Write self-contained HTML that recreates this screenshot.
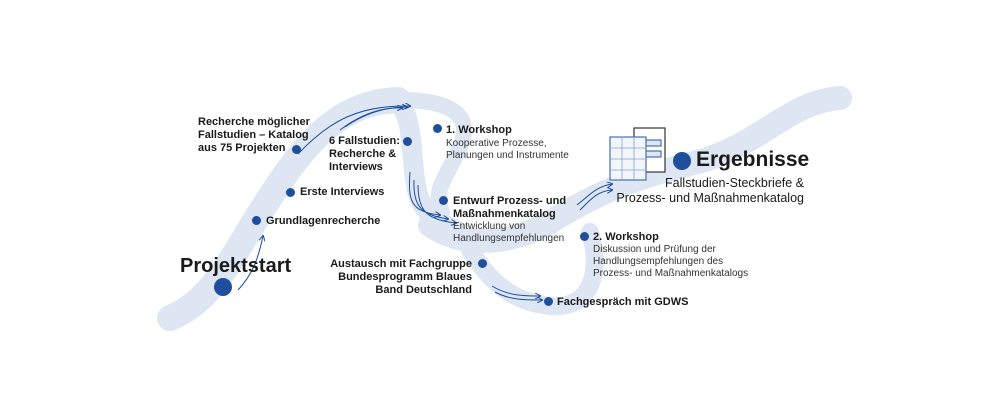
<!DOCTYPE html>
<html><head><meta charset="utf-8"><style>
body{margin:0;width:1000px;height:405px;background:#fff;overflow:hidden;position:relative;font-family:"Liberation Sans",sans-serif;color:#1a1a1a}
.t{position:absolute;font-weight:bold;font-size:11px;line-height:13px;white-space:nowrap}
.s{position:absolute;font-size:10px;line-height:12px;color:#333;white-space:nowrap}
.d{position:absolute;width:9px;height:9px;border-radius:50%;background:#1f4e9c}
</style></head><body>
<svg width="1000" height="405" style="position:absolute;left:0;top:0">
<defs><marker id="a" markerWidth="6" markerHeight="6" refX="5" refY="3" orient="auto"><path d="M0,0 L6,3 L0,6" fill="none" stroke="#1f4e9c" stroke-width="1"/></marker></defs>
<g fill="none" stroke="#dde6f2" stroke-linecap="round">
<path d="M170,318 C215,300 235,250 265,205 C300,150 335,102 398,100" stroke-width="26"/>
<path d="M395,100 C418,115 408,170 420,200 C430,222 450,226 470,238" stroke-width="20"/>
<path d="M400,100 C445,100 472,112 462,142 C452,170 430,190 442,212" stroke-width="16"/>
<path d="M430,225 C470,252 520,242 560,216 C620,180 660,172 705,160 C765,140 790,102 840,98" stroke-width="24"/>
<path d="M470,250 C490,282 512,302 550,306 C592,310 602,270 590,232" stroke-width="18"/>
</g>
<g fill="none" stroke="#1f4e9c" stroke-width="1" marker-end="url(#a)">
<path d="M238,290 C252,275 258,260 263,236"/>
<path d="M298,154 C330,120 360,105 410,106"/>
<path d="M340,130 C360,115 380,107 402,108"/>
<path d="M345,127 C365,113 385,107 407,107"/>
<path d="M410,172 C408,200 410,212 440,215"/>
<path d="M414,180 C413,205 420,215 448,219"/>
<path d="M418,185 C418,212 428,220 456,223"/>
<path d="M495,292 C510,300 525,300 542,300"/>
<path d="M492,286 C508,296 525,296 540,296"/>
<path d="M577,205 C590,195 595,187 612,184"/>
<path d="M580,210 C592,198 598,191 612,190"/>
</g>
<g stroke="#333" stroke-width="1.2">
<rect x="634" y="128" width="31" height="44" fill="#fff"/>
<rect x="641" y="140" width="20" height="6" fill="#dde6f2" stroke="#4a6fb0"/>
<rect x="641" y="151" width="20" height="6" fill="#dde6f2" stroke="#4a6fb0"/>
<rect x="610" y="137" width="36" height="43" fill="#f2f5fa" stroke="#4a6fb0"/>
<path d="M610,148 H646 M610,159 H646 M610,170 H646 M622,137 V180 M634,137 V180" stroke="#8aa3cf" stroke-width="0.8"/>
</g>
</svg>
<div class="d" style="left:214px;top:278px;width:18px;height:18px"></div>
<div class="t" style="left:180px;top:255px;font-size:20px;line-height:22px;font-weight:bold">Projektstart</div>
<div class="d" style="left:252px;top:216px"></div><div class="t" style="left:266px;top:215px">Grundlagenrecherche</div>
<div class="d" style="left:286px;top:188px"></div><div class="t" style="left:300px;top:186px">Erste Interviews</div>
<div class="d" style="left:292px;top:145px"></div>
<div class="t" style="left:198px;top:116px">Recherche möglicher<br>Fallstudien – Katalog<br>aus 75 Projekten</div>
<div class="d" style="left:403px;top:137px"></div>
<div class="t" style="left:329px;top:135px">6 Fallstudien:<br>Recherche &amp;<br>Interviews</div>
<div class="d" style="left:433px;top:124px"></div>
<div class="t" style="left:446px;top:124px">1. Workshop</div>
<div class="s" style="left:446px;top:138px">Kooperative Prozesse,<br>Planungen und Instrumente</div>
<div class="d" style="left:439px;top:196px"></div>
<div class="t" style="left:453px;top:195px">Entwurf Prozess- und<br>Maßnahmenkatalog</div>
<div class="s" style="left:453px;top:221px">Entwicklung von<br>Handlungsempfehlungen</div>
<div class="d" style="left:478px;top:259px"></div>
<div class="t" style="left:326px;top:258px;text-align:right;width:146px">Austausch mit Fachgruppe<br>Bundesprogramm Blaues<br>Band Deutschland</div>
<div class="d" style="left:544px;top:297px"></div><div class="t" style="left:557px;top:296px">Fachgespräch mit GDWS</div>
<div class="d" style="left:580px;top:232px"></div>
<div class="t" style="left:593px;top:231px">2. Workshop</div>
<div class="s" style="left:593px;top:244px">Diskussion und Prüfung der<br>Handlungsempfehlungen des<br>Prozess- und Maßnahmenkatalogs</div>
<div class="d" style="left:673px;top:152px;width:18px;height:18px"></div>
<div class="t" style="left:696px;top:148px;font-size:21px;line-height:24px">Ergebnisse</div>
<div class="s" style="left:604px;top:176px;font-size:12.5px;line-height:15px;color:#1a1a1a;text-align:right;width:200px">Fallstudien-Steckbriefe &amp;<br>Prozess- und Maßnahmenkatalog</div>
</body></html>
